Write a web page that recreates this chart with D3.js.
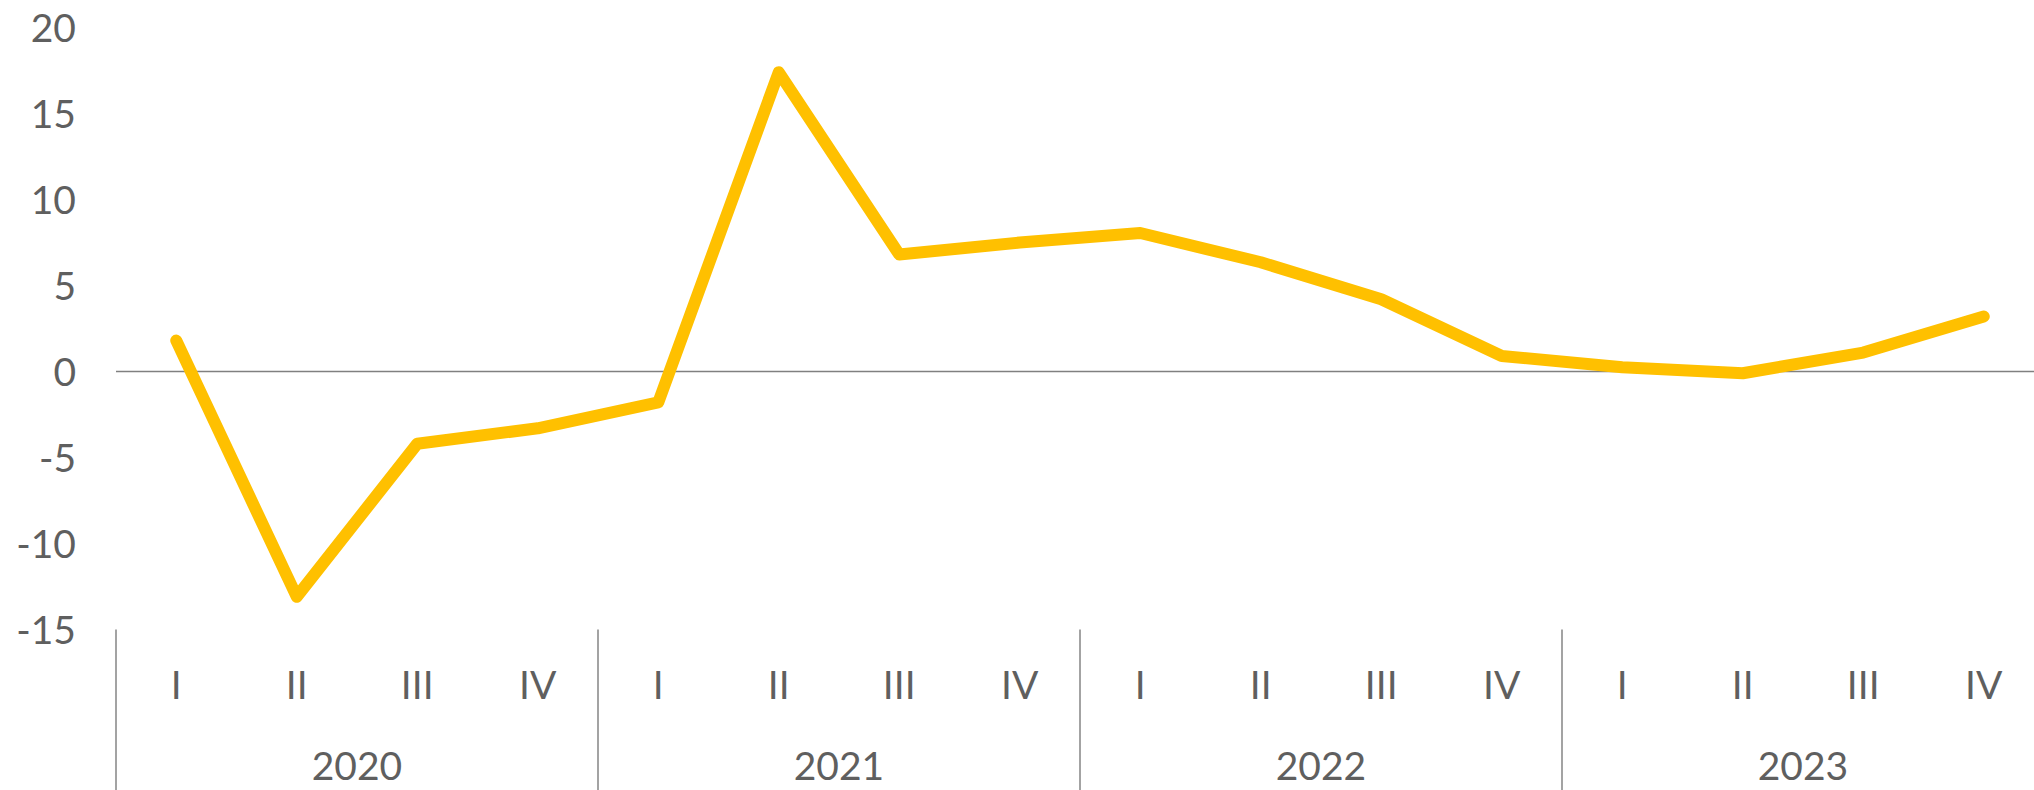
<!DOCTYPE html>
<html>
<head>
<meta charset="utf-8">
<script src="https://cdn.jsdelivr.net/npm/d3@7"></script>
<style>
  html, body { margin: 0; padding: 0; background: #fff; }
  svg { display: block; }
  text { font-family: Lato, "Open Sans", sans-serif; font-weight: 400; fill: #5f5f5f; }
</style>
</head>
<body>
<svg width="2034" height="790"></svg>
<script>
const svg_ = d3.select('svg');

const W = 2034;
const H = 790;

// data
const years = ["2020", "2021", "2022", "2023"];
const quarters = ["I", "II", "III", "IV"];
const values = [1.8, -13.1, -4.2, -3.3, -1.8, 17.4, 6.8, 7.5, 8.05, 6.35, 4.2, 0.9, 0.25, -0.1, 1.1, 3.2];
const yTicks = [20, 15, 10, 5, 0, -5, -10, -15];

const DIMS = {
    LEFT: 116,
    RIGHT: 2044,   // last year band runs past the edge
    TOP: 27.5,
    BOTTOM: 629.5,
    FONT: 39
};

const periods = [];
years.forEach(y => quarters.forEach(q => periods.push({ year: y, q: q, key: y + "-" + q })));
periods.forEach((p, i) => p.value = values[i]);

const x = d3.scaleBand()
    .domain(periods.map(d => d.key))
    .range([DIMS.LEFT, DIMS.RIGHT]);

const xYear = d3.scaleBand()
    .domain(years)
    .range([DIMS.LEFT, DIMS.RIGHT]);

const y = d3.scaleLinear()
    .domain([-15, 20])
    .range([DIMS.BOTTOM, DIMS.TOP]);

// y labels
svg_.append("g")
    .selectAll("text")
    .data(yTicks)
    .join("text")
    .attr("x", 76)
    .attr("y", d => y(d))
    .attr("dy", "0.36em")
    .attr("text-anchor", "end")
    .style("font-size", DIMS.FONT + "px")
    .text(d => d);

// zero line
svg_.append("line")
    .attr("x1", DIMS.LEFT)
    .attr("x2", W)
    .attr("y1", y(0))
    .attr("y2", y(0))
    .attr("stroke", "#808080")
    .attr("stroke-width", 1.6);

// year separators
svg_.append("g")
    .selectAll("line")
    .data(years)
    .join("line")
    .attr("x1", d => xYear(d))
    .attr("x2", d => xYear(d))
    .attr("y1", y(-15))
    .attr("y2", H)
    .attr("stroke", "#8c8c8c")
    .attr("stroke-width", 1.6);

// quarter labels
svg_.append("g")
    .selectAll("text")
    .data(periods)
    .join("text")
    .attr("x", d => x(d.key) + x.bandwidth() / 2)
    .attr("y", 699)
    .attr("text-anchor", "middle")
    .style("font-size", DIMS.FONT + "px")
    .text(d => d.q);

// year labels
svg_.append("g")
    .selectAll("text")
    .data(years)
    .join("text")
    .attr("x", d => xYear(d) + xYear.bandwidth() / 2)
    .attr("y", 780)
    .attr("text-anchor", "middle")
    .style("font-size", DIMS.FONT + "px")
    .text(d => d);

// line
const line = d3.line()
    .x(d => x(d.key) + x.bandwidth() / 2)
    .y(d => y(d.value));

svg_.append("path")
    .datum(periods)
    .attr("d", line)
    .attr("fill", "none")
    .attr("stroke", "#FFC000")
    .attr("stroke-width", 12)
    .attr("stroke-linecap", "round")
    .attr("stroke-linejoin", "round");
</script>
</body>
</html>
